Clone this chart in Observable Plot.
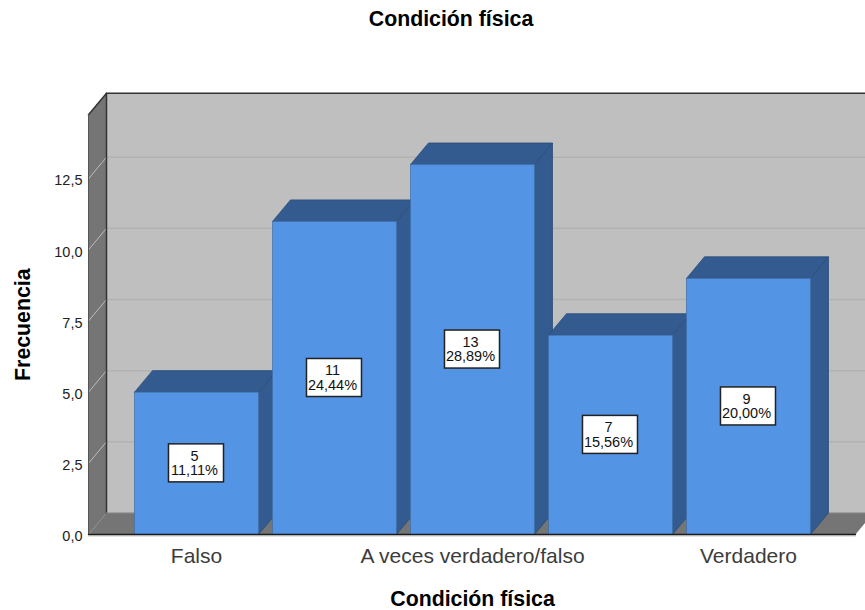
<!DOCTYPE html>
<html lang="es">
<head>
<meta charset="utf-8">
<script src="https://cdn.jsdelivr.net/npm/d3@7"></script>
<script src="https://cdn.jsdelivr.net/npm/@observablehq/plot@0.6"></script>
<style>
  html, body { margin: 0; padding: 0; background: #fff; overflow: hidden; }
  #title { height: 36px; width: 865px; position: relative; font: bold 21.3px "Liberation Sans", Arial, sans-serif; color: #000; }
  #title span { position: absolute; left: 451px; top: 7px; transform: translateX(-50%); white-space: nowrap; }
  svg { display: block; }
</style>
</head>
<body>
<div id="title"><span>Condición física</span></div>
<div id="chart"></div>
<script>
const categories = ["Falso", "", "A veces verdadero/falso", "", "Verdadero"];
const counts = [5, 11, 13, 7, 9];
const percents = ["11,11%", "24,44%", "28,89%", "15,56%", "20,00%"];
const yTicks = [0, 2.5, 5, 7.5, 10, 12.5];
const xTickIndex = [0, 2, 4];
const yMax = 14.75;
const xDomain = [-0.7826, 4.848];
const floorEnd = 4.775;
const depthX = 0.1304;
const depthY = 0.759;
const halfBar = 0.4493;
const boxHalfX = 0.1993;
const boxHalfY = 0.668;

const wallFill = "#bfbfbf", sideFill = "#757575", dark = "#333333";
const barFill = "#5394e4", shadeFill = "#335b8f", shadeEdge = "#2a4c78", barEdge = "#3f6ea8";

const pts = a => a.map(([x, y]) => ({x, y}));
const poly = (a, fill, stroke, strokeWidth = 1) =>
  Plot.line(pts([...a, a[0]]), {x: "x", y: "y", fill, stroke, strokeWidth, curve: "linear"});

const x0 = xDomain[0];
const marks = [
  // back wall, left wall, floor
  poly([[x0 + depthX, depthY], [floorEnd + depthX, depthY], [floorEnd + depthX, yMax + depthY], [x0 + depthX, yMax + depthY]], wallFill, "none"),
  poly([[x0, 0], [x0 + depthX, depthY], [x0 + depthX, yMax + depthY], [x0, yMax]], sideFill, "none"),
  poly([[x0, 0], [floorEnd, 0], [floorEnd + depthX, depthY], [x0 + depthX, depthY]], sideFill, "none"),
  // grid on back wall and on left wall
  Plot.ruleY(yTicks.slice(1), {y: d => d + depthY, x1: x0 + depthX, x2: floorEnd + depthX, stroke: "#b2b2b2", strokeWidth: 1.5}),
  ...yTicks.slice(1).map(t => Plot.line(pts([[x0, t], [x0 + depthX, t + depthY]]), {x: "x", y: "y", stroke: "#bdbdbd", strokeWidth: 1})),
  // wall edges
  Plot.line(pts([[x0, yMax], [x0 + depthX, yMax + depthY], [floorEnd + depthX, yMax + depthY]]), {x: "x", y: "y", stroke: dark, strokeWidth: 1.5}),
  Plot.line(pts([[x0 + depthX, yMax + depthY], [x0 + depthX, depthY]]), {x: "x", y: "y", stroke: dark, strokeWidth: 1.5}),
  Plot.line(pts([[x0, yMax], [x0, 0]]), {x: "x", y: "y", stroke: "#555", strokeWidth: 1}),
  Plot.line(pts([[x0 + depthX, depthY], [floorEnd + depthX, depthY]]), {x: "x", y: "y", stroke: "#8c8c8c", strokeWidth: 1}),
  // bars
  ...counts.flatMap((v, i) => {
    const L = i - halfBar, R = i + halfBar;
    return [
      poly([[R, 0], [R + depthX, depthY], [R + depthX, v + depthY], [R, v]], shadeFill, shadeEdge, 0.8),
      poly([[L, v], [L + depthX, v + depthY], [R + depthX, v + depthY], [R, v]], shadeFill, shadeEdge, 0.8),
      poly([[L, 0], [R, 0], [R, v], [L, v]], barFill, barEdge, 0.7)
    ];
  }),
  // front baseline
  Plot.line(pts([[x0, 0], [floorEnd, 0]]), {x: "x", y: "y", stroke: "#c8c8c8", strokeWidth: 1, dy: 1.5}),
  Plot.line(pts([[x0, 0], [floorEnd, 0]]), {x: "x", y: "y", stroke: "#1a1a1a", strokeWidth: 1.5}),
  // value boxes
  Plot.rect(counts.map((v, i) => ({i, v})), {
    x1: d => d.i - boxHalfX, x2: d => d.i + boxHalfX,
    y1: d => d.v / 2 - boxHalfY, y2: d => d.v / 2 + boxHalfY,
    fill: "#fff", stroke: "#222", strokeWidth: 1.5, inset: 0
  }),
  Plot.text(counts.map((v, i) => ({i, v})), {
    x: "i", y: d => d.v / 2,
    text: d => `${d.v}\n${percents[d.i]}`,
    fontSize: 14.5, lineHeight: 1, fill: "#111", dx: -2
  }),
  // y tick labels
  Plot.text(yTicks, {
    x: x0, y: d => d, dx: -6, dy: 2, textAnchor: "end",
    text: d => d3.format(".1f")(d).replace(".", ","), fontSize: 14.5, fill: "#222"
  }),
  // x tick labels
  Plot.axisX(xTickIndex, {
    tickSize: 0, tickPadding: 14, anchor: "bottom", label: null,
    tickFormat: i => categories[i], fontSize: 21, fill: "#3c3c3c"
  }),
  // axis titles
  Plot.text(["Condición física"], {x: [2], y: [0], dy: 65, text: d => d, fontWeight: "bold", fontSize: 21.3, fill: "#000"}),
  Plot.text(["Frecuencia"], {y: [yMax / 2], frameAnchor: "left", dx: 23, rotate: -90, text: d => d, fontWeight: "bold", fontSize: 21.3, fill: "#000", textAnchor: "middle"})
];

const plot = Plot.plot({
  width: 865,
  height: 574,
  marginTop: 78.3,
  marginBottom: 76,
  marginLeft: 0,
  marginRight: 0,
  x: {domain: xDomain, range: [88, 865]},
  y: {domain: [0, yMax], axis: null},
  style: {fontFamily: "'Liberation Sans', Arial, sans-serif", background: "#fff"},
  marks
});
document.getElementById("chart").append(plot);
</script>
</body>
</html>
